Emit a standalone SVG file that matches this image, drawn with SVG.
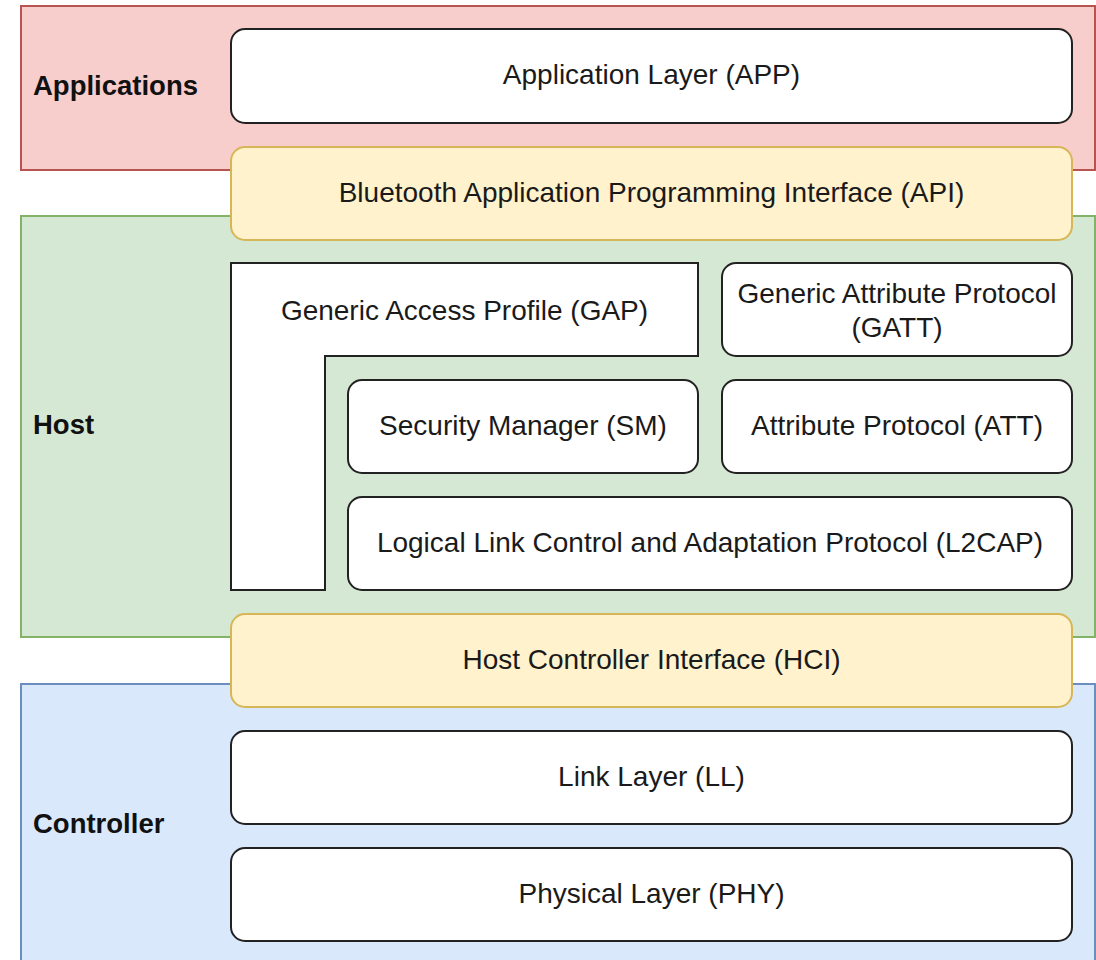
<svg xmlns="http://www.w3.org/2000/svg" width="1096" height="960" viewBox="0 0 1096 960">
<style>
.t{font-family:"Liberation Sans",Arial,Helvetica,sans-serif;font-size:28px;fill:#1a1a1a;text-anchor:middle}
.b{font-family:"Liberation Sans",Arial,Helvetica,sans-serif;font-size:27.5px;font-weight:bold;fill:#111}
.box{fill:#ffffff;stroke:#222;stroke-width:2}
.yel{fill:#fff2cc;stroke:#d6b656;stroke-width:2}
</style>
<rect width="1096" height="960" fill="#ffffff"/>
<g id="band-applications">
<rect x="21" y="6" width="1074" height="164" fill="#f8cecc" stroke="#b85450" stroke-width="2"/>
<text class="b" x="33" y="95">Applications</text>
</g>
<g id="band-host">
<rect x="21" y="216" width="1074" height="421" fill="#d5e8d4" stroke="#82b366" stroke-width="2"/>
<text class="b" x="33" y="434">Host</text>
</g>
<g id="band-controller">
<rect x="21" y="684" width="1074" height="290" fill="#dae8fc" stroke="#6c8ebf" stroke-width="2"/>
<text class="b" x="33" y="833">Controller</text>
</g>
<g id="app">
<rect class="box" x="231" y="29" width="841" height="94" rx="14"/>
<text class="t" x="651.5" y="84">Application Layer (APP)</text>
</g>
<g id="api">
<rect class="yel" x="231" y="147" width="841" height="93" rx="14"/>
<text class="t" x="651.5" y="202">Bluetooth Application Programming Interface (API)</text>
</g>
<g id="gap">
<path class="box" d="M231,263 H698 V356 H325 V590 H231 Z"/>
<text class="t" x="464.5" y="320">Generic Access Profile (GAP)</text>
</g>
<g id="gatt">
<rect class="box" x="722" y="263" width="350" height="93" rx="14"/>
<text class="t" x="897" y="303">Generic Attribute Protocol</text>
<text class="t" x="897" y="337">(GATT)</text>
</g>
<g id="sm">
<rect class="box" x="348" y="380" width="350" height="93" rx="14"/>
<text class="t" x="523" y="435">Security Manager (SM)</text>
</g>
<g id="att">
<rect class="box" x="722" y="380" width="350" height="93" rx="14"/>
<text class="t" x="897" y="435">Attribute Protocol (ATT)</text>
</g>
<g id="l2cap">
<rect class="box" x="348" y="497" width="724" height="93" rx="14"/>
<text class="t" x="710" y="552">Logical Link Control and Adaptation Protocol (L2CAP)</text>
</g>
<g id="hci">
<rect class="yel" x="231" y="614" width="841" height="93" rx="14"/>
<text class="t" x="651.5" y="669">Host Controller Interface (HCI)</text>
</g>
<g id="ll">
<rect class="box" x="231" y="731" width="841" height="93" rx="14"/>
<text class="t" x="651.5" y="786">Link Layer (LL)</text>
</g>
<g id="phy">
<rect class="box" x="231" y="848" width="841" height="93" rx="14"/>
<text class="t" x="651.5" y="903">Physical Layer (PHY)</text>
</g>
<g id="connectors"></g>
</svg>
